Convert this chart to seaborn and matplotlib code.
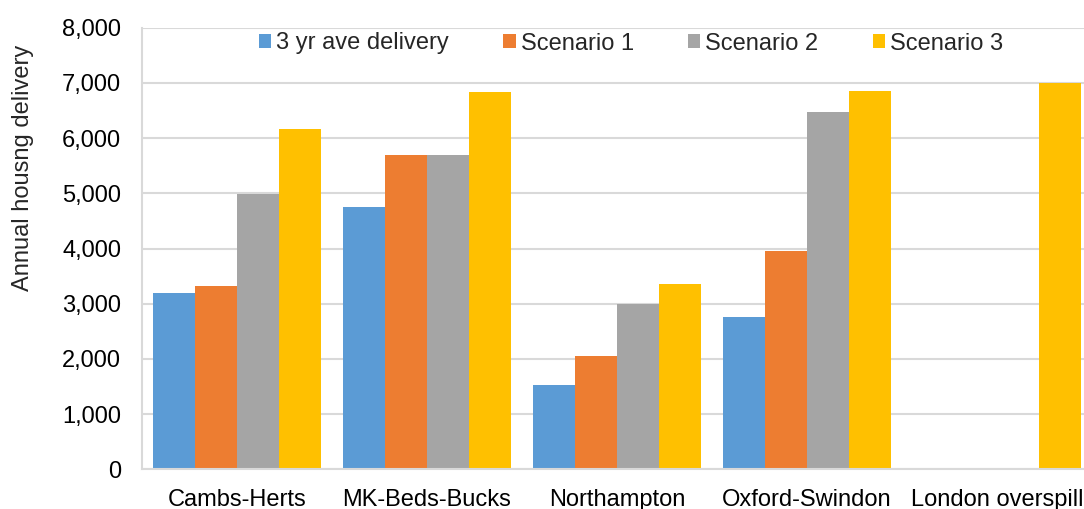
import numpy as np
import pandas as pd
import matplotlib
matplotlib.use("Agg")
import matplotlib.pyplot as plt
from matplotlib.patches import Patch
from matplotlib.ticker import FuncFormatter
import seaborn as sns

# Annual housing delivery by growth area and scenario
areas = ["Cambs-Herts", "MK-Beds-Bucks", "Northampton", "Oxford-Swindon", "London overspill"]
series = ["3 yr ave delivery", "Scenario 1", "Scenario 2", "Scenario 3"]
ave_delivery = [3200, 4750, 1530, 2765, np.nan]
scenario_1 = [3320, 5690, 2050, 3950, np.nan]
scenario_2 = [4990, 5700, 2995, 6470, np.nan]
scenario_3 = [6170, 6835, 3365, 6850, 7000]
colors = ["#5B9BD5", "#ED7D31", "#A5A5A5", "#FFC000"]
y_ticks = [0, 1000, 2000, 3000, 4000, 5000, 6000, 7000, 8000]

values = [ave_delivery, scenario_1, scenario_2, scenario_3]
df = pd.DataFrame(
    [(a, s, v) for s, vals in zip(series, values) for a, v in zip(areas, vals)],
    columns=["area", "series", "value"],
)

sns.set_style("white")
plt.rcParams["font.family"] = ["Liberation Sans", "DejaVu Sans"]

W, H = 1084, 509
fig = plt.figure(figsize=(W / 100, H / 100), dpi=100)
ax = fig.add_axes([142 / W, 39.7 / H, 950 / W, 441.6 / H])

sns.barplot(
    data=df, x="area", y="value", hue="series", order=areas, hue_order=series,
    palette=colors, width=0.887, gap=0, errorbar=None, saturation=1,
    linewidth=0, ax=ax, legend=False,
)

ax.set_xlim(-0.5, len(areas) - 0.5)
ax.set_ylim(0, 8000)
ax.set_yticks(y_ticks)
ax.yaxis.set_major_formatter(FuncFormatter(lambda v, p: f"{int(v):,}"))
ax.grid(axis="y", color="#D9D9D9", linewidth=1.5)
ax.set_axisbelow(True)
for side in ["top", "right"]:
    ax.spines[side].set_visible(False)
for side in ["left", "bottom"]:
    ax.spines[side].set_color("#D9D9D9")
    ax.spines[side].set_linewidth(1.5)
ax.tick_params(axis="y", length=0, pad=15, labelsize=17, labelcolor="#000000")
ax.tick_params(axis="x", length=0, pad=14, labelsize=17, labelcolor="#000000")
ax.set_xlabel("")
ax.set_ylabel("")

fig.text(23 / W, 1 - 168 / H, "Annual housng delivery", rotation=90,
         ha="center", va="center", fontsize=17)

handles = [Patch(facecolor=c, edgecolor="none") for c in colors]
fig.legend(
    handles, series, loc="center", bbox_to_anchor=(631 / W, 1 - 43.5 / H),
    ncol=4, frameon=False, fontsize=17, handlelength=0.53, handleheight=0.53,
    handletextpad=0.21, columnspacing=2.29, borderpad=0, borderaxespad=0,
)

fig.savefig("out.png", dpi=100)
